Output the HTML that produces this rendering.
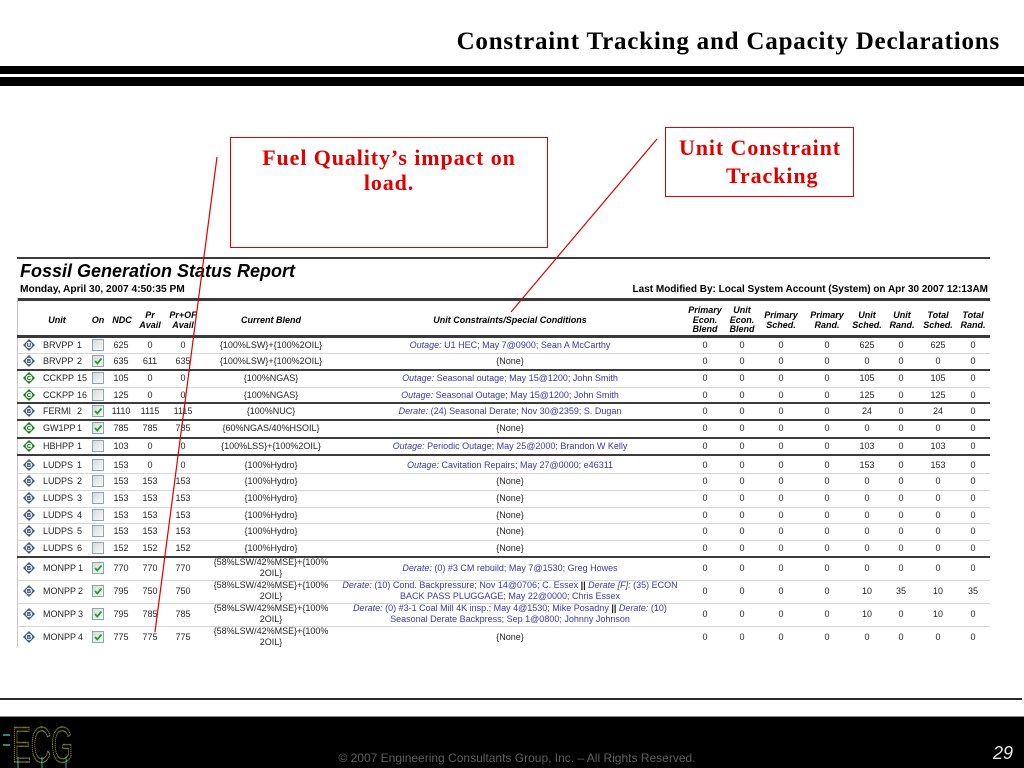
<!DOCTYPE html>
<html>
<head>
<meta charset="utf-8">
<style>
html,body{margin:0;padding:0}
body{width:1024px;height:768px;position:relative;overflow:hidden;background:#fff;font-family:"Liberation Sans",sans-serif}
.a{position:absolute}
.ser{font-family:"Liberation Serif",serif;font-weight:bold;white-space:nowrap}
.r{position:absolute;left:0;width:1024px;height:22px}
.c{position:absolute;top:0;height:22px;line-height:22px;text-align:center;white-space:nowrap;font-size:9px;color:#262626}
.d{line-height:11px}
.u{position:absolute;top:0;height:22px;line-height:22px;font-size:9px;color:#262626;white-space:nowrap}
.un{left:43px}.no{left:77px}
.ic{position:absolute;left:23px;top:5px}
.cb{position:absolute;left:92px;top:5px;width:10px;height:10px;border:1px solid #8aa4c0;background:linear-gradient(135deg,#d9dad3,#fbfbf8)}
.cb svg{position:absolute;left:0;top:0}
.n1{left:106px;width:30px}.n2{left:135px;width:30px}.n3{left:168px;width:30px}
.bl{left:196px;width:150px}.cs{left:339px;width:342px}
.p1{left:688px;width:34px}.p2{left:725px;width:34px}.p3{left:764px;width:34px}.p4{left:810px;width:34px}
.p5{left:850px;width:34px}.p6{left:884px;width:34px}.p7{left:921px;width:34px}.p8{left:956px;width:34px}
.bu{color:#3a3aa6}
.bu i{font-style:italic}
.k{color:#111;font-weight:bold}
.th{position:absolute;top:303px;height:35px;display:flex;align-items:center;justify-content:center;text-align:center;font-size:9px;line-height:9.5px;font-weight:bold;font-style:italic;color:#000;white-space:nowrap}
.tk{position:absolute;left:17px;width:973px;height:2px;background:#3c3c3c}
.tn{position:absolute;left:17px;width:973px;height:1px;background:#d6d6d6}
</style>
</head>
<body>

<!-- Title -->
<div class="a ser" style="right:24px;top:27px;font-size:25px;line-height:30px;letter-spacing:0.8px;color:#000">Constraint Tracking and Capacity Declarations</div>
<div class="a" style="left:0;top:66px;width:1024px;height:8px;background:#000"></div>
<div class="a" style="left:0;top:77px;width:1024px;height:9px;background:#000"></div>

<!-- Callout boxes -->
<div class="a" style="left:230px;top:137px;width:316px;height:109px;border:1px solid #e00000"></div>
<div class="a ser" style="left:230px;width:318px;top:145px;font-size:22px;line-height:26px;letter-spacing:0.9px;color:#e00000;text-align:center">Fuel Quality’s impact on</div>
<div class="a ser" style="left:230px;width:318px;top:170px;font-size:22px;line-height:26px;letter-spacing:0.9px;color:#e00000;text-align:center">load.</div>

<div class="a" style="left:665px;top:127px;width:187px;height:68px;border:1px solid #e00000"></div>
<div class="a ser" style="left:679px;top:135px;font-size:22px;line-height:26px;letter-spacing:0.9px;color:#e00000">Unit Constraint</div>
<div class="a ser" style="left:726px;top:163px;font-size:22px;line-height:26px;letter-spacing:0.9px;color:#e00000">Tracking</div>

<!-- Report header -->
<div class="tk" style="top:257px"></div>
<div class="a" style="left:20px;top:262px;font-size:18px;line-height:18px;font-weight:bold;font-style:italic;color:#000;white-space:nowrap">Fossil Generation Status Report</div>
<div class="a" style="left:20px;top:284px;font-size:10.2px;line-height:12px;font-weight:bold;color:#000;white-space:nowrap">Monday, April 30, 2007 4:50:35 PM</div>
<div class="a" style="right:36px;top:284px;font-size:10px;line-height:12px;font-weight:bold;color:#000;white-space:nowrap">Last Modified By: Local System Account (System) on Apr 30 2007 12:13AM</div>
<div class="a" style="left:17px;top:298px;width:973px;height:3px;background:#3a3a3a"></div>
<div class="a" style="left:17px;top:298px;width:1px;height:349px;background:#c4c4c4"></div>

<!-- Column headers -->
<div class="th" style="left:37px;width:40px">Unit</div>
<div class="th" style="left:88px;width:20px">On</div>
<div class="th" style="left:107px;width:30px">NDC</div>
<div class="th" style="left:133px;width:34px">Pr<br>Avail</div>
<div class="th" style="left:163px;width:40px">Pr+OF<br>Avail</div>
<div class="th" style="left:211px;width:120px">Current Blend</div>
<div class="th" style="left:400px;width:220px">Unit Constraints/Special Conditions</div>
<div class="th" style="left:683px;width:44px">Primary<br>Econ.<br>Blend</div>
<div class="th" style="left:722px;width:40px">Unit<br>Econ.<br>Blend</div>
<div class="th" style="left:759px;width:44px">Primary<br>Sched.</div>
<div class="th" style="left:805px;width:44px">Primary<br>Rand.</div>
<div class="th" style="left:847px;width:40px">Unit<br>Sched.</div>
<div class="th" style="left:882px;width:40px">Unit<br>Rand.</div>
<div class="th" style="left:916px;width:44px">Total<br>Sched.</div>
<div class="th" style="left:953px;width:40px">Total<br>Rand.</div>

<div class="a" style="left:17px;top:335px;width:973px;height:3px;background:#3a3a3a"></div>

<!-- Separator lines -->
<div class="tn" style="top:353px"></div>
<div class="tk" style="top:369px"></div>
<div class="tn" style="top:387px"></div>
<div class="tk" style="top:402px"></div>
<div class="tk" style="top:419px"></div>
<div class="tk" style="top:437px"></div>
<div class="tk" style="top:454px"></div>
<div class="tn" style="top:473px"></div>
<div class="tn" style="top:490px"></div>
<div class="tn" style="top:507px"></div>
<div class="tn" style="top:523px"></div>
<div class="tn" style="top:540px"></div>
<div class="tk" style="top:556px"></div>
<div class="tn" style="top:580px"></div>
<div class="tn" style="top:603px"></div>
<div class="tn" style="top:626px"></div>

<!-- Row 1 BRVPP 1 -->
<div class="r" style="top:334px">
<svg class="ic" width="12" height="12" viewBox="0 0 12 12"><polygon points="6,0.5 11.5,6 6,11.5 0.5,6" fill="#4d6e8c" stroke="#2c4258" stroke-width=".6"/><circle cx="6" cy="6" r="3.2" fill="#eef"/><text x="6" y="8" font-size="5.5" font-weight="bold" text-anchor="middle" fill="#123" font-family="Liberation Sans">U</text></svg>
<span class="u un">BRVPP</span><span class="u no">1</span>
<div class="cb"></div>
<span class="c n1">625</span><span class="c n2">0</span><span class="c n3">0</span>
<span class="c bl">{100%LSW}+{100%2OIL}</span>
<span class="c cs bu"><i>Outage:</i> U1 HEC; May 7@0900; Sean A McCarthy</span>
<span class="c p1">0</span><span class="c p2">0</span><span class="c p3">0</span><span class="c p4">0</span><span class="c p5">625</span><span class="c p6">0</span><span class="c p7">625</span><span class="c p8">0</span>
</div>

<!-- Row 2 BRVPP 2 -->
<div class="r" style="top:350px">
<svg class="ic" width="12" height="12" viewBox="0 0 12 12"><polygon points="6,0.5 11.5,6 6,11.5 0.5,6" fill="#4d6e8c" stroke="#2c4258" stroke-width=".6"/><circle cx="6" cy="6" r="3.2" fill="#eef"/><text x="6" y="8" font-size="5.5" font-weight="bold" text-anchor="middle" fill="#123" font-family="Liberation Sans">B</text></svg>
<span class="u un">BRVPP</span><span class="u no">2</span>
<div class="cb"><svg width="10" height="10"><polyline points="2,5 4.3,7.5 8.5,2.5" fill="none" stroke="#21a121" stroke-width="1.8"/></svg></div>
<span class="c n1">635</span><span class="c n2">611</span><span class="c n3">635</span>
<span class="c bl">{100%LSW}+{100%2OIL}</span>
<span class="c cs">{None}</span>
<span class="c p1">0</span><span class="c p2">0</span><span class="c p3">0</span><span class="c p4">0</span><span class="c p5">0</span><span class="c p6">0</span><span class="c p7">0</span><span class="c p8">0</span>
</div>

<!-- Row 3 CCKPP 15 -->
<div class="r" style="top:367px">
<svg class="ic" width="12" height="12" viewBox="0 0 12 12"><polygon points="6,0.5 11.5,6 6,11.5 0.5,6" fill="#1f9b1f" stroke="#0b5a0b" stroke-width=".6"/><circle cx="6" cy="6" r="3.2" fill="#efe"/><text x="6" y="8" font-size="5.5" font-weight="bold" text-anchor="middle" fill="#030" font-family="Liberation Sans">C</text></svg>
<span class="u un">CCKPP</span><span class="u no">15</span>
<div class="cb"></div>
<span class="c n1">105</span><span class="c n2">0</span><span class="c n3">0</span>
<span class="c bl">{100%NGAS}</span>
<span class="c cs bu"><i>Outage:</i> Seasonal outage; May 15@1200; John Smith</span>
<span class="c p1">0</span><span class="c p2">0</span><span class="c p3">0</span><span class="c p4">0</span><span class="c p5">105</span><span class="c p6">0</span><span class="c p7">105</span><span class="c p8">0</span>
</div>

<!-- Row 4 CCKPP 16 -->
<div class="r" style="top:384px">
<svg class="ic" width="12" height="12" viewBox="0 0 12 12"><polygon points="6,0.5 11.5,6 6,11.5 0.5,6" fill="#1f9b1f" stroke="#0b5a0b" stroke-width=".6"/><circle cx="6" cy="6" r="3.2" fill="#efe"/><text x="6" y="8" font-size="5.5" font-weight="bold" text-anchor="middle" fill="#030" font-family="Liberation Sans">C</text></svg>
<span class="u un">CCKPP</span><span class="u no">16</span>
<div class="cb"></div>
<span class="c n1">125</span><span class="c n2">0</span><span class="c n3">0</span>
<span class="c bl">{100%NGAS}</span>
<span class="c cs bu"><i>Outage:</i> Seasonal Outage; May 15@1200; John Smith</span>
<span class="c p1">0</span><span class="c p2">0</span><span class="c p3">0</span><span class="c p4">0</span><span class="c p5">125</span><span class="c p6">0</span><span class="c p7">125</span><span class="c p8">0</span>
</div>

<!-- Row 5 FERMI 2 -->
<div class="r" style="top:400px">
<svg class="ic" width="12" height="12" viewBox="0 0 12 12"><polygon points="6,0.5 11.5,6 6,11.5 0.5,6" fill="#4d6e8c" stroke="#2c4258" stroke-width=".6"/><circle cx="6" cy="6" r="3.2" fill="#eef"/><text x="6" y="8" font-size="5.5" font-weight="bold" text-anchor="middle" fill="#123" font-family="Liberation Sans">B</text></svg>
<span class="u un">FERMI</span><span class="u no">2</span>
<div class="cb"><svg width="10" height="10"><polyline points="2,5 4.3,7.5 8.5,2.5" fill="none" stroke="#21a121" stroke-width="1.8"/></svg></div>
<span class="c n1">1110</span><span class="c n2">1115</span><span class="c n3">1115</span>
<span class="c bl">{100%NUC}</span>
<span class="c cs bu"><i>Derate:</i> (24) Seasonal Derate; Nov 30@2359; S. Dugan</span>
<span class="c p1">0</span><span class="c p2">0</span><span class="c p3">0</span><span class="c p4">0</span><span class="c p5">24</span><span class="c p6">0</span><span class="c p7">24</span><span class="c p8">0</span>
</div>

<!-- Row 6 GW1PP 1 -->
<div class="r" style="top:417px">
<svg class="ic" width="12" height="12" viewBox="0 0 12 12"><polygon points="6,0.5 11.5,6 6,11.5 0.5,6" fill="#1f9b1f" stroke="#0b5a0b" stroke-width=".6"/><circle cx="6" cy="6" r="3.2" fill="#efe"/><text x="6" y="8" font-size="5.5" font-weight="bold" text-anchor="middle" fill="#030" font-family="Liberation Sans">C</text></svg>
<span class="u un">GW1PP</span><span class="u no">1</span>
<div class="cb"><svg width="10" height="10"><polyline points="2,5 4.3,7.5 8.5,2.5" fill="none" stroke="#21a121" stroke-width="1.8"/></svg></div>
<span class="c n1">785</span><span class="c n2">785</span><span class="c n3">785</span>
<span class="c bl">{60%NGAS/40%HSOIL}</span>
<span class="c cs">{None}</span>
<span class="c p1">0</span><span class="c p2">0</span><span class="c p3">0</span><span class="c p4">0</span><span class="c p5">0</span><span class="c p6">0</span><span class="c p7">0</span><span class="c p8">0</span>
</div>

<!-- Row 7 HBHPP 1 -->
<div class="r" style="top:435px">
<svg class="ic" width="12" height="12" viewBox="0 0 12 12"><polygon points="6,0.5 11.5,6 6,11.5 0.5,6" fill="#1f9b1f" stroke="#0b5a0b" stroke-width=".6"/><circle cx="6" cy="6" r="3.2" fill="#efe"/><text x="6" y="8" font-size="5.5" font-weight="bold" text-anchor="middle" fill="#030" font-family="Liberation Sans">C</text></svg>
<span class="u un">HBHPP</span><span class="u no">1</span>
<div class="cb"></div>
<span class="c n1">103</span><span class="c n2">0</span><span class="c n3">0</span>
<span class="c bl">{100%LSS}+{100%2OIL}</span>
<span class="c cs bu"><i>Outage:</i> Periodic Outage; May 25@2000; Brandon W Kelly</span>
<span class="c p1">0</span><span class="c p2">0</span><span class="c p3">0</span><span class="c p4">0</span><span class="c p5">103</span><span class="c p6">0</span><span class="c p7">103</span><span class="c p8">0</span>
</div>

<!-- Row 8 LUDPS 1 -->
<div class="r" style="top:454px">
<svg class="ic" width="12" height="12" viewBox="0 0 12 12"><polygon points="6,0.5 11.5,6 6,11.5 0.5,6" fill="#4d6e8c" stroke="#2c4258" stroke-width=".6"/><circle cx="6" cy="6" r="3.2" fill="#eef"/><text x="6" y="8" font-size="5.5" font-weight="bold" text-anchor="middle" fill="#123" font-family="Liberation Sans">B</text></svg>
<span class="u un">LUDPS</span><span class="u no">1</span>
<div class="cb"></div>
<span class="c n1">153</span><span class="c n2">0</span><span class="c n3">0</span>
<span class="c bl">{100%Hydro}</span>
<span class="c cs bu"><i>Outage:</i> Cavitation Repairs; May 27@0000; e46311</span>
<span class="c p1">0</span><span class="c p2">0</span><span class="c p3">0</span><span class="c p4">0</span><span class="c p5">153</span><span class="c p6">0</span><span class="c p7">153</span><span class="c p8">0</span>
</div>

<!-- Row 9 LUDPS 2 -->
<div class="r" style="top:470px">
<svg class="ic" width="12" height="12" viewBox="0 0 12 12"><polygon points="6,0.5 11.5,6 6,11.5 0.5,6" fill="#4d6e8c" stroke="#2c4258" stroke-width=".6"/><circle cx="6" cy="6" r="3.2" fill="#eef"/><text x="6" y="8" font-size="5.5" font-weight="bold" text-anchor="middle" fill="#123" font-family="Liberation Sans">B</text></svg>
<span class="u un">LUDPS</span><span class="u no">2</span>
<div class="cb"></div>
<span class="c n1">153</span><span class="c n2">153</span><span class="c n3">153</span>
<span class="c bl">{100%Hydro}</span>
<span class="c cs">{None}</span>
<span class="c p1">0</span><span class="c p2">0</span><span class="c p3">0</span><span class="c p4">0</span><span class="c p5">0</span><span class="c p6">0</span><span class="c p7">0</span><span class="c p8">0</span>
</div>

<!-- Row 10 LUDPS 3 -->
<div class="r" style="top:487px">
<svg class="ic" width="12" height="12" viewBox="0 0 12 12"><polygon points="6,0.5 11.5,6 6,11.5 0.5,6" fill="#4d6e8c" stroke="#2c4258" stroke-width=".6"/><circle cx="6" cy="6" r="3.2" fill="#eef"/><text x="6" y="8" font-size="5.5" font-weight="bold" text-anchor="middle" fill="#123" font-family="Liberation Sans">B</text></svg>
<span class="u un">LUDPS</span><span class="u no">3</span>
<div class="cb"></div>
<span class="c n1">153</span><span class="c n2">153</span><span class="c n3">153</span>
<span class="c bl">{100%Hydro}</span>
<span class="c cs">{None}</span>
<span class="c p1">0</span><span class="c p2">0</span><span class="c p3">0</span><span class="c p4">0</span><span class="c p5">0</span><span class="c p6">0</span><span class="c p7">0</span><span class="c p8">0</span>
</div>

<!-- Row 11 LUDPS 4 -->
<div class="r" style="top:504px">
<svg class="ic" width="12" height="12" viewBox="0 0 12 12"><polygon points="6,0.5 11.5,6 6,11.5 0.5,6" fill="#4d6e8c" stroke="#2c4258" stroke-width=".6"/><circle cx="6" cy="6" r="3.2" fill="#eef"/><text x="6" y="8" font-size="5.5" font-weight="bold" text-anchor="middle" fill="#123" font-family="Liberation Sans">B</text></svg>
<span class="u un">LUDPS</span><span class="u no">4</span>
<div class="cb"></div>
<span class="c n1">153</span><span class="c n2">153</span><span class="c n3">153</span>
<span class="c bl">{100%Hydro}</span>
<span class="c cs">{None}</span>
<span class="c p1">0</span><span class="c p2">0</span><span class="c p3">0</span><span class="c p4">0</span><span class="c p5">0</span><span class="c p6">0</span><span class="c p7">0</span><span class="c p8">0</span>
</div>

<!-- Row 12 LUDPS 5 -->
<div class="r" style="top:520px">
<svg class="ic" width="12" height="12" viewBox="0 0 12 12"><polygon points="6,0.5 11.5,6 6,11.5 0.5,6" fill="#4d6e8c" stroke="#2c4258" stroke-width=".6"/><circle cx="6" cy="6" r="3.2" fill="#eef"/><text x="6" y="8" font-size="5.5" font-weight="bold" text-anchor="middle" fill="#123" font-family="Liberation Sans">B</text></svg>
<span class="u un">LUDPS</span><span class="u no">5</span>
<div class="cb"></div>
<span class="c n1">153</span><span class="c n2">153</span><span class="c n3">153</span>
<span class="c bl">{100%Hydro}</span>
<span class="c cs">{None}</span>
<span class="c p1">0</span><span class="c p2">0</span><span class="c p3">0</span><span class="c p4">0</span><span class="c p5">0</span><span class="c p6">0</span><span class="c p7">0</span><span class="c p8">0</span>
</div>

<!-- Row 13 LUDPS 6 -->
<div class="r" style="top:537px">
<svg class="ic" width="12" height="12" viewBox="0 0 12 12"><polygon points="6,0.5 11.5,6 6,11.5 0.5,6" fill="#4d6e8c" stroke="#2c4258" stroke-width=".6"/><circle cx="6" cy="6" r="3.2" fill="#eef"/><text x="6" y="8" font-size="5.5" font-weight="bold" text-anchor="middle" fill="#123" font-family="Liberation Sans">B</text></svg>
<span class="u un">LUDPS</span><span class="u no">6</span>
<div class="cb"></div>
<span class="c n1">152</span><span class="c n2">152</span><span class="c n3">152</span>
<span class="c bl">{100%Hydro}</span>
<span class="c cs">{None}</span>
<span class="c p1">0</span><span class="c p2">0</span><span class="c p3">0</span><span class="c p4">0</span><span class="c p5">0</span><span class="c p6">0</span><span class="c p7">0</span><span class="c p8">0</span>
</div>

<!-- Row 14 MONPP 1 -->
<div class="r" style="top:557px">
<svg class="ic" width="12" height="12" viewBox="0 0 12 12"><polygon points="6,0.5 11.5,6 6,11.5 0.5,6" fill="#4d6e8c" stroke="#2c4258" stroke-width=".6"/><circle cx="6" cy="6" r="3.2" fill="#eef"/><text x="6" y="8" font-size="5.5" font-weight="bold" text-anchor="middle" fill="#123" font-family="Liberation Sans">B</text></svg>
<span class="u un">MONPP</span><span class="u no" style="left:78px">1</span>
<div class="cb"><svg width="10" height="10"><polyline points="2,5 4.3,7.5 8.5,2.5" fill="none" stroke="#21a121" stroke-width="1.8"/></svg></div>
<span class="c n1">770</span><span class="c n2">770</span><span class="c n3">770</span>
<span class="c bl d">{58%LSW/42%MSE}+{100%<br>2OIL}</span>
<span class="c cs bu"><i>Derate:</i> (0) #3 CM rebuild; May 7@1530; Greg Howes</span>
<span class="c p1">0</span><span class="c p2">0</span><span class="c p3">0</span><span class="c p4">0</span><span class="c p5">0</span><span class="c p6">0</span><span class="c p7">0</span><span class="c p8">0</span>
</div>

<!-- Row 15 MONPP 2 -->
<div class="r" style="top:580px">
<svg class="ic" width="12" height="12" viewBox="0 0 12 12"><polygon points="6,0.5 11.5,6 6,11.5 0.5,6" fill="#4d6e8c" stroke="#2c4258" stroke-width=".6"/><circle cx="6" cy="6" r="3.2" fill="#eef"/><text x="6" y="8" font-size="5.5" font-weight="bold" text-anchor="middle" fill="#123" font-family="Liberation Sans">B</text></svg>
<span class="u un">MONPP</span><span class="u no" style="left:78px">2</span>
<div class="cb"><svg width="10" height="10"><polyline points="2,5 4.3,7.5 8.5,2.5" fill="none" stroke="#21a121" stroke-width="1.8"/></svg></div>
<span class="c n1">795</span><span class="c n2">750</span><span class="c n3">750</span>
<span class="c bl d">{58%LSW/42%MSE}+{100%<br>2OIL}</span>
<span class="c cs bu d"><i>Derate:</i> (10) Cond. Backpressure; Nov 14@0706; C. Essex <span class="k">||</span> <i>Derate [F]:</i> (35) ECON<br>BACK PASS PLUGGAGE; May 22@0000; Chris Essex</span>
<span class="c p1">0</span><span class="c p2">0</span><span class="c p3">0</span><span class="c p4">0</span><span class="c p5">10</span><span class="c p6">35</span><span class="c p7">10</span><span class="c p8">35</span>
</div>

<!-- Row 16 MONPP 3 -->
<div class="r" style="top:603px">
<svg class="ic" width="12" height="12" viewBox="0 0 12 12"><polygon points="6,0.5 11.5,6 6,11.5 0.5,6" fill="#4d6e8c" stroke="#2c4258" stroke-width=".6"/><circle cx="6" cy="6" r="3.2" fill="#eef"/><text x="6" y="8" font-size="5.5" font-weight="bold" text-anchor="middle" fill="#123" font-family="Liberation Sans">B</text></svg>
<span class="u un">MONPP</span><span class="u no" style="left:78px">3</span>
<div class="cb"><svg width="10" height="10"><polyline points="2,5 4.3,7.5 8.5,2.5" fill="none" stroke="#21a121" stroke-width="1.8"/></svg></div>
<span class="c n1">795</span><span class="c n2">785</span><span class="c n3">785</span>
<span class="c bl d">{58%LSW/42%MSE}+{100%<br>2OIL}</span>
<span class="c cs bu d"><i>Derate:</i> (0) #3-1 Coal Mill 4K insp.; May 4@1530; Mike Posadny <span class="k">||</span> <i>Derate:</i> (10)<br>Seasonal Derate Backpress; Sep 1@0800; Johnny Johnson</span>
<span class="c p1">0</span><span class="c p2">0</span><span class="c p3">0</span><span class="c p4">0</span><span class="c p5">10</span><span class="c p6">0</span><span class="c p7">10</span><span class="c p8">0</span>
</div>

<!-- Row 17 MONPP 4 -->
<div class="r" style="top:626px">
<svg class="ic" width="12" height="12" viewBox="0 0 12 12"><polygon points="6,0.5 11.5,6 6,11.5 0.5,6" fill="#4d6e8c" stroke="#2c4258" stroke-width=".6"/><circle cx="6" cy="6" r="3.2" fill="#eef"/><text x="6" y="8" font-size="5.5" font-weight="bold" text-anchor="middle" fill="#123" font-family="Liberation Sans">B</text></svg>
<span class="u un">MONPP</span><span class="u no" style="left:78px">4</span>
<div class="cb"><svg width="10" height="10"><polyline points="2,5 4.3,7.5 8.5,2.5" fill="none" stroke="#21a121" stroke-width="1.8"/></svg></div>
<span class="c n1">775</span><span class="c n2">775</span><span class="c n3">775</span>
<span class="c bl d">{58%LSW/42%MSE}+{100%<br>2OIL}</span>
<span class="c cs">{None}</span>
<span class="c p1">0</span><span class="c p2">0</span><span class="c p3">0</span><span class="c p4">0</span><span class="c p5">0</span><span class="c p6">0</span><span class="c p7">0</span><span class="c p8">0</span>
</div>

<!-- Red callout lines -->
<svg class="a" style="left:0;top:0" width="1024" height="768" viewBox="0 0 1024 768">
<line x1="217" y1="157" x2="155" y2="632" stroke="#e00000" stroke-width="1.2"/>
<line x1="657" y1="139" x2="511" y2="312" stroke="#e00000" stroke-width="1.2"/>
</svg>

<!-- Footer -->
<div class="a" style="left:0;top:698px;width:1022px;height:2px;background:#2a2a2a"></div>
<div class="a" style="left:0;top:716px;width:1024px;height:1px;background:#8a8a8a"></div>
<div class="a" style="left:0;top:717px;width:1024px;height:51px;background:#000"></div>
<svg class="a" style="left:0;top:717px" width="90" height="51" viewBox="0 0 90 51">
<text x="12" y="45" font-family="Liberation Sans" font-size="50" textLength="61" lengthAdjust="spacingAndGlyphs" fill="none" stroke="#a8a83a" stroke-width="1.4" stroke-dasharray="1.2 0.8">ECG</text>
<line x1="3" y1="18" x2="10" y2="18" stroke="#38b0b0" stroke-width="1.5"/>
<line x1="3" y1="28" x2="10" y2="28" stroke="#38b0b0" stroke-width="1.5"/>
<line x1="18" y1="40" x2="18" y2="51" stroke="#38b0b0" stroke-width="1"/>
<line x1="42" y1="40" x2="42" y2="51" stroke="#38b0b0" stroke-width="1"/>
<line x1="66" y1="40" x2="66" y2="51" stroke="#38b0b0" stroke-width="1"/>
</svg>
<div class="a" style="left:300px;width:434px;top:751px;font-size:12px;line-height:14px;text-align:center;color:#5e5e5e;white-space:nowrap">© 2007 Engineering Consultants Group, Inc. – All Rights Reserved.</div>
<div class="a" style="right:11px;top:743px;font-size:18px;line-height:20px;color:#e6e6e6;font-style:italic">29</div>

</body>
</html>
